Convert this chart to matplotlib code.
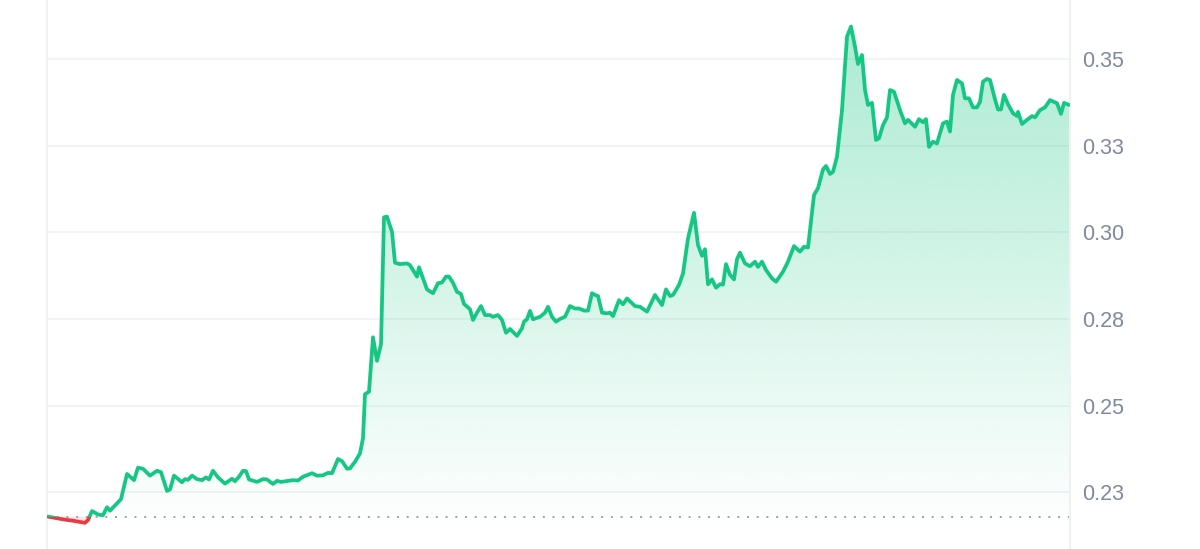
import numpy as np
import matplotlib
matplotlib.use("Agg")
import matplotlib.pyplot as plt
from matplotlib.patches import Rectangle
from matplotlib.path import Path
from matplotlib.colors import to_rgb

# time position (arbitrary units along the x axis) and price
t = [1, 16, 26, 38, 41, 45, 51, 56, 60, 63, 74, 80, 87, 91, 96, 103, 110, 114, 120, 123,
     127, 135, 138, 141, 145, 150, 155, 159, 162, 166, 171, 178, 185, 188, 192, 196, 199, 202, 210, 216,
     220, 226, 230, 234, 239, 246, 251, 256, 265, 270, 276, 281, 285, 291, 295, 300, 303, 308, 313, 316,
     318, 322, 326, 330, 334, 337, 340, 345, 348, 353, 360, 363, 370, 372, 380, 386, 391, 395, 399, 402,
     406, 410, 414, 417, 423, 426, 430, 434, 438, 443, 446, 451, 455, 459, 463, 470, 475, 477, 480, 483,
     486, 493, 498, 501, 505, 509, 513, 518, 523, 528, 532, 537, 541, 545, 548, 551, 555, 560, 563, 566,
     572, 576, 580, 588, 593, 600, 608, 615, 619, 623, 626, 632, 636, 641, 647, 651, 655, 658, 661, 665,
     669, 673, 676, 679, 683, 687, 690, 693, 698, 703, 708, 711, 715, 719, 725, 729, 736, 741, 747, 753,
     757, 761, 767, 771, 776, 779, 783, 786, 790, 795, 800, 804, 808, 811, 815, 818, 821, 825, 829, 832,
     836, 840, 843, 847, 853, 858, 861, 868, 872, 876, 879, 882, 886, 890, 896, 900, 903, 906, 910, 915,
     918, 922, 926, 930, 933, 936, 940, 943, 948, 951, 954, 957, 961, 966, 970, 971, 975, 980, 985, 988,
     993, 998, 1003, 1010, 1014, 1017, 1022]
price = [0.2180, 0.2172, 0.2168, 0.2162, 0.2170, 0.2196, 0.2186, 0.2184, 0.2207, 0.2197,
         0.2230, 0.2303, 0.2285, 0.2321, 0.2318, 0.2298, 0.2312, 0.2308, 0.2254, 0.2258,
         0.2298, 0.2279, 0.2288, 0.2286, 0.2298, 0.2288, 0.2285, 0.2293, 0.2287, 0.2312,
         0.2293, 0.2275, 0.2289, 0.2282, 0.2295, 0.2312, 0.2311, 0.2287, 0.2280, 0.2288,
         0.2287, 0.2274, 0.2283, 0.2280, 0.2282, 0.2285, 0.2284, 0.2295, 0.2305, 0.2298,
         0.2299, 0.2306, 0.2305, 0.2346, 0.2340, 0.2318, 0.2319, 0.2338, 0.2362, 0.2406,
         0.2533, 0.2540, 0.2697, 0.2629, 0.2677, 0.3043, 0.3045, 0.3001, 0.2912, 0.2908,
         0.2910, 0.2905, 0.2872, 0.2899, 0.2835, 0.2824, 0.2853, 0.2855, 0.2872, 0.2872,
         0.2854, 0.2828, 0.2822, 0.2793, 0.2778, 0.2747, 0.2768, 0.2787, 0.2761, 0.2761,
         0.2756, 0.2761, 0.2747, 0.2710, 0.2721, 0.2701, 0.2723, 0.2742, 0.2749, 0.2773,
         0.2749, 0.2756, 0.2768, 0.2785, 0.2756, 0.2742, 0.2750, 0.2756, 0.2787, 0.2780,
         0.2780, 0.2774, 0.2774, 0.2824, 0.2819, 0.2816, 0.2768, 0.2766, 0.2768, 0.2758,
         0.2804, 0.2792, 0.2809, 0.2787, 0.2785, 0.2771, 0.2819, 0.2790, 0.2835, 0.2816,
         0.2819, 0.2848, 0.2881, 0.2982, 0.3056, 0.2963, 0.2932, 0.2951, 0.2850, 0.2864,
         0.2840, 0.2850, 0.2849, 0.2908, 0.2877, 0.2864, 0.2922, 0.2941, 0.2910, 0.2902,
         0.2915, 0.2900, 0.2915, 0.2891, 0.2867, 0.2857, 0.2886, 0.2915, 0.2960, 0.2944,
         0.2958, 0.2956, 0.3107, 0.3127, 0.3181, 0.3191, 0.3168, 0.3174, 0.3218, 0.3352,
         0.3564, 0.3593, 0.3535, 0.3485, 0.3511, 0.3410, 0.3367, 0.3373, 0.3266, 0.3271,
         0.3309, 0.3331, 0.3410, 0.3405, 0.3352, 0.3314, 0.3324, 0.3304, 0.3326, 0.3317,
         0.3326, 0.3246, 0.3261, 0.3256, 0.3314, 0.3319, 0.3290, 0.3396, 0.3439, 0.3429,
         0.3386, 0.3386, 0.3360, 0.3360, 0.3376, 0.3434, 0.3442, 0.3439, 0.3383, 0.3354,
         0.3354, 0.3396, 0.3369, 0.3343, 0.3335, 0.3347, 0.3312, 0.3324, 0.3335, 0.3331,
         0.3352, 0.3360, 0.3381, 0.3372, 0.3341, 0.3373, 0.3367]

yticks = [0.225, 0.25, 0.275, 0.30, 0.325, 0.35]
ytick_labels = ["0.23", "0.25", "0.28", "0.30", "0.33", "0.35"]

green = "#16c784"
red = "#ea3943"
t = np.array(t)
price = np.array(price)
base = price[0]

fig = plt.figure(figsize=(12, 5.49), dpi=100)
ax = fig.add_axes([47 / 1200, 0, 1023 / 1200, 1])
xmin, xmax = 0, 1023
ymin, ymax = 0.20865, 0.36696
ax.set_xlim(xmin, xmax)
ax.set_ylim(ymin, ymax)

# grid
for y in yticks:
    ax.axhline(y, color="#eff2f5", lw=1.2, zorder=0)

# gradient fill above baseline, clipped to the area under the line
fill = ax.fill_between(t, price, base, where=price >= base, interpolate=True,
                       facecolor="none", edgecolor="none")
clip = Path.make_compound_path(*fill.get_paths())
n = 256
grad = np.zeros((n, 1, 4))
grad[:, 0, :3] = to_rgb(green)
grad[:, 0, 3] = np.linspace(0.36, 0.01, n)
im = ax.imshow(grad, extent=(xmin, xmax, base, price.max()), aspect="auto",
               origin="upper", zorder=1, interpolation="bilinear")
im.set_clip_path(clip, transform=ax.transData)

# faint red fill below baseline
ax.fill_between(t, price, base, where=price < base, interpolate=True,
                facecolor=red, alpha=0.12, edgecolor="none", zorder=1)

# baseline
ax.plot([xmin, t[-1]], [base, base], color="#9aa2b1", lw=1.4,
        linestyle=(0, (1, 4)), zorder=2)

# line, green above baseline and red below
lg, = ax.plot(t, price, color=green, lw=2.7, zorder=3, solid_capstyle="round",
              solid_joinstyle="round")
lr, = ax.plot(t, price, color=red, lw=2.7, zorder=3, solid_capstyle="round",
              solid_joinstyle="round")
lg.set_clip_path(Rectangle((xmin, base), xmax - xmin, ymax - base, transform=ax.transData))
lr.set_clip_path(Rectangle((xmin, ymin), xmax - xmin, base - ymin, transform=ax.transData))

# frame
for s in ["top", "bottom"]:
    ax.spines[s].set_visible(False)
for s in ["left", "right"]:
    ax.spines[s].set_color("#eff2f5")
    ax.spines[s].set_linewidth(1.5)

ax.set_xticks([])
ax.yaxis.tick_right()
ax.set_yticks(yticks)
ax.set_yticklabels(ytick_labels, fontsize=15.5, color="#808a9d", family="Liberation Sans")
ax.tick_params(axis="y", length=0, pad=9)

fig.savefig("out.png", dpi=100)
